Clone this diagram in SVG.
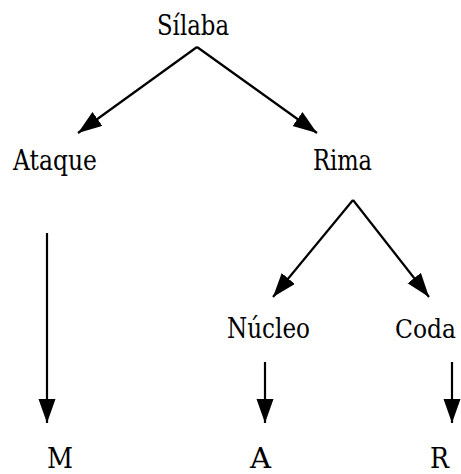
<svg xmlns="http://www.w3.org/2000/svg" width="461" height="474" viewBox="0 0 461 474">
<style>
.lbl{font-family:'DejaVu Serif','Liberation Serif',serif;font-size:27px;fill:#000}
.edge{stroke:#000;stroke-width:2.2;fill:none;marker-end:url(#ah)}
</style>
<defs>
<marker id="ah" markerUnits="userSpaceOnUse" markerWidth="26" markerHeight="18" refX="24" refY="8.5" orient="auto">
<path d="M0,0 L24,8.5 L0,17 z" fill="#000"/>
</marker>
</defs>
<rect width="461" height="474" fill="#fff"/>
<g id="connectors">
<path class="edge" d="M197,47 L78,133"/>
<path class="edge" d="M197,47 L317,133"/>
<path class="edge" d="M353,200 L273,297"/>
<path class="edge" d="M353,200 L429,297"/>
<path class="edge" d="M47,233 L47,423"/>
<path class="edge" d="M265,362 L265,423"/>
<path class="edge" d="M452,362 L452,423"/>
</g>
<g id="silaba"><text class="lbl" x="157" y="35" textLength="72" lengthAdjust="spacingAndGlyphs">Sílaba</text></g>
<g id="ataque"><text class="lbl" x="13" y="170" textLength="84" lengthAdjust="spacingAndGlyphs">Ataque</text></g>
<g id="rima"><text class="lbl" x="313" y="170" textLength="59" lengthAdjust="spacingAndGlyphs">Rima</text></g>
<g id="nucleo"><text class="lbl" x="227" y="338" textLength="83" lengthAdjust="spacingAndGlyphs">Núcleo</text></g>
<g id="coda"><text class="lbl" x="395" y="338" style="font-size:25.5px" textLength="61" lengthAdjust="spacingAndGlyphs">Coda</text></g>
<g id="m"><text class="lbl" x="47" y="468" textLength="26" lengthAdjust="spacingAndGlyphs">M</text></g>
<g id="a"><text class="lbl" x="250" y="468" textLength="21" lengthAdjust="spacingAndGlyphs">A</text></g>
<g id="r"><text class="lbl" x="430" y="468" textLength="19" lengthAdjust="spacingAndGlyphs">R</text></g>
</svg>
